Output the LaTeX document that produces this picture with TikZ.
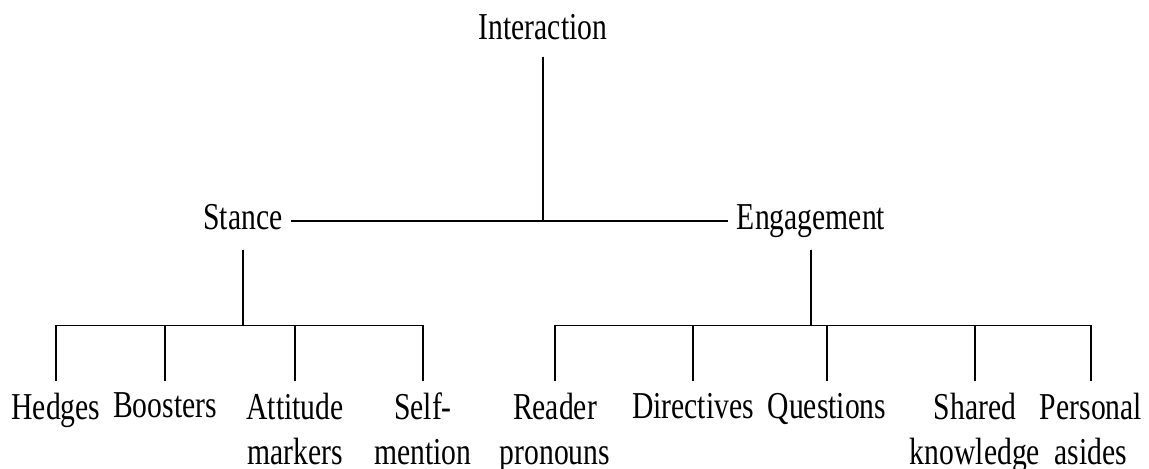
\documentclass[tikz,border=0pt]{standalone}
\usepackage{fontspec}
\setmainfont{Liberation Serif}[FakeStretch=0.78]

\begin{document}
\begin{tikzpicture}[line width=0.75pt,
    every node/.style={font=\fontsize{19pt}{22.5pt}\selectfont, inner sep=4pt},
    toplabel/.style={text height=13pt, text depth=4pt},
    leaf/.style={align=center, anchor=north, inner sep=5pt, outer sep=1pt},
    level distance=95pt,
    level 1/.style={sibling distance=284pt,
      edge from parent path={(\tikzparentnode.south) |- (\tikzchildnode)}},
    level 2/.style={level distance=80pt,
      edge from parent path={([yshift=-1.5pt]\tikzparentnode.south) -- ++(0,-38pt) -| (\tikzchildnode.north)}}]
  \useasboundingbox (0,0) rectangle (574.5pt,-234.5pt);
  \node[toplabel] (inter) at (271.5pt,-15.5pt) {Interaction}
    child[xshift=-8pt] { node[toplabel] (stance) {Stance} [sibling distance=61pt]
      child[xshift=-2pt] { node[leaf] (hedges) {Hedges} }
      child[xshift=-8.5pt] { node[leaf] (boost) {Boosters} }
      child[xshift=-4.5pt] { node[leaf] (attit) {Attitude\\markers} }
      child[xshift=-1.5pt] { node[leaf] (selfm) {Self-\\mention} }
    }
    child[xshift=-8pt] { node[toplabel] (engage) {Engagement} [sibling distance=67pt]
      child[xshift=6pt] { node[leaf] (reader) {Reader\\pronouns} }
      child[xshift=8pt] { node[leaf] (direct) {Directives} }
      child[xshift=8pt] { node[leaf] (quest) {Questions} }
      child[xshift=15pt] { node[leaf] (shared) {Shared\\knowledge} }
      child[xshift=6pt] { node[leaf] (asides) {Personal\\asides} }
    };
\end{tikzpicture}
\end{document}
